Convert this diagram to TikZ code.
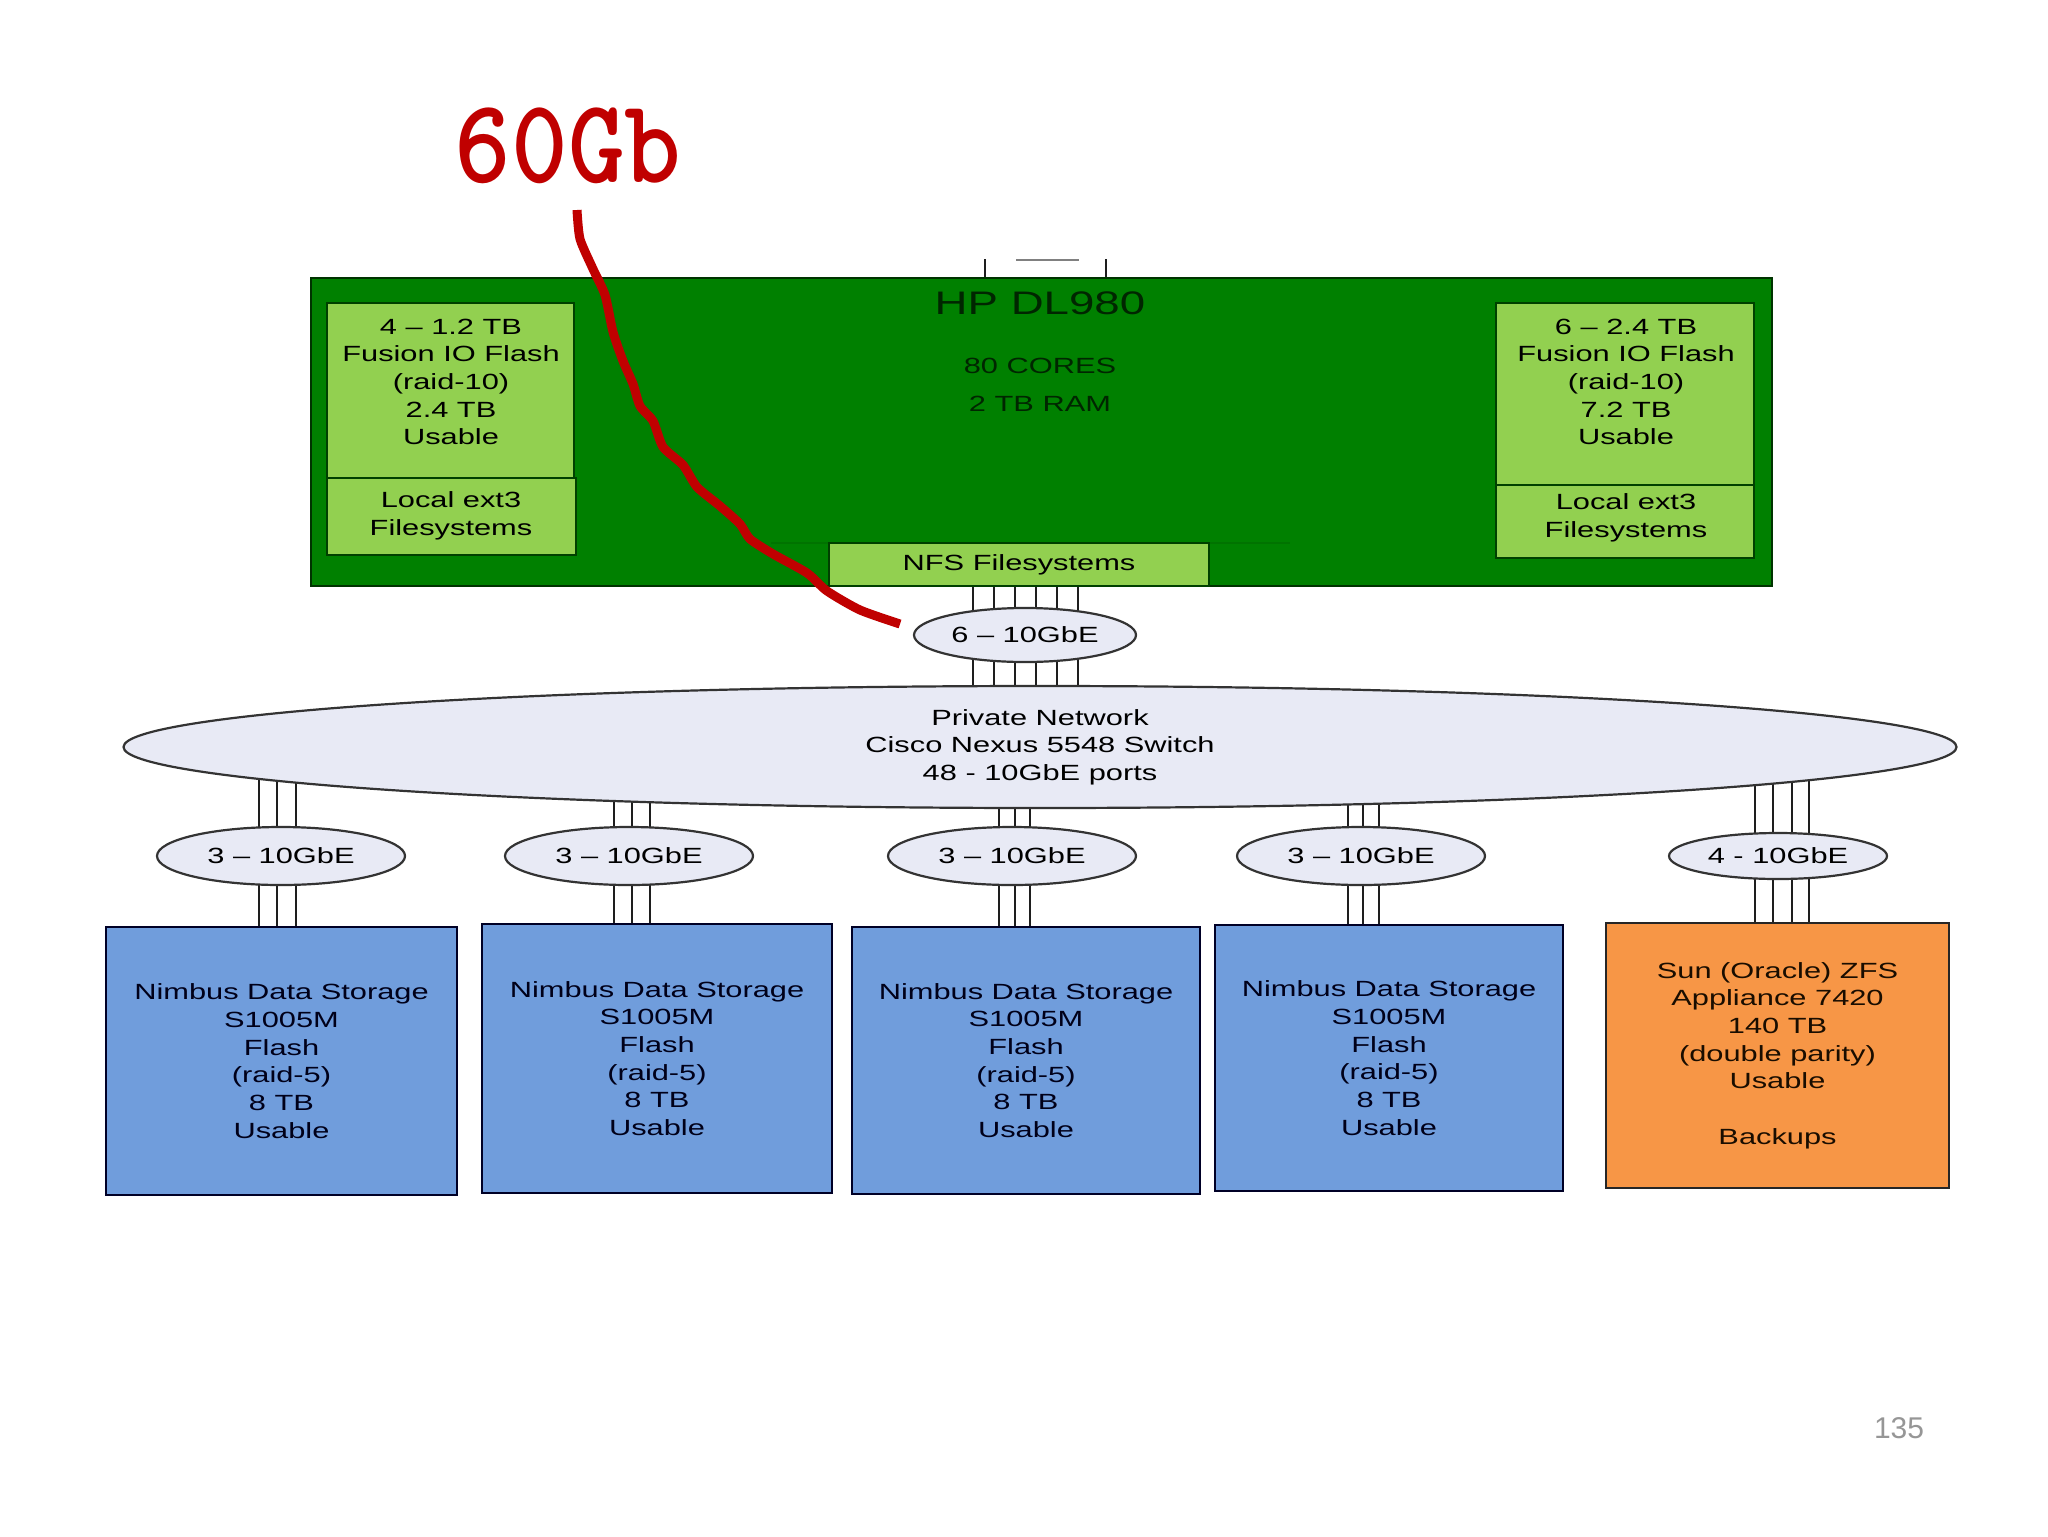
\documentclass[tikz,border=0pt]{standalone}
\usepackage{fontspec}
\setmainfont{Liberation Sans}[FakeStretch=1.4]
\newfontfamily\pagenumfont{Liberation Sans}
\newfontfamily\redfont{lmmonolt10-bold.otf}[FakeStretch=0.9]
\usetikzlibrary{shapes.geometric}
\pgfdeclarelayer{back}
\pgfdeclarelayer{bg}
\pgfsetlayers{back,bg,main}
\definecolor{hpgreen}{RGB}{0,128,0}
\definecolor{lightgreen}{RGB}{146,208,80}
\definecolor{nimbus}{RGB}{112,157,220}
\definecolor{sunorange}{RGB}{247,150,70}
\definecolor{ellfill}{RGB}{232,234,245}
\definecolor{annot}{RGB}{192,0,0}
\definecolor{wirecol}{RGB}{30,30,30}
\definecolor{pagegray}{RGB}{150,150,150}
\tikzset{
 txt/.style={font=\fontsize{11}{13.85}\selectfont, align=center, inner sep=0pt},
 hpbox/.style={draw=black!80!green, line width=1.4pt, fill=hpgreen, inner sep=0pt},
 subbox/.style={draw=black!75!green, line width=1.2pt, fill=lightgreen, inner sep=0pt},
 store/.style={draw=black!85!blue, line width=1.2pt, fill=nimbus, txt, text=black!90!blue},
 sunbox/.style={draw=black!85, line width=1.2pt, fill=sunorange, txt, text=black!90!orange},
 port/.style={ellipse, draw=black!80, line width=1.1pt, fill=ellfill, inner sep=0pt, txt},
 wire/.style={draw=wirecol, line width=1pt},
 annotline/.style={draw=annot, line width=4.5pt, line join=round},
 greentxt/.style={txt, text=black!85!green},
}
\begin{document}
\begin{tikzpicture}[x=0.5pt,y=-0.5pt]
\begin{pgfonlayer}{back}
\fill[white] (0,0) rectangle (2048,1536);
\end{pgfonlayer}
\useasboundingbox (0,0) rectangle (2048,1536);

% tab on top of the server
\draw[wire] (985,259) -- (985,279);
\draw[wire] (1106,259) -- (1106,279);
\draw[gray, line width=0.8pt] (1016,260) -- (1079,260);

% server
\node[hpbox, minimum width=730.5pt, minimum height=154pt] (hp) at (1041.5,432) {};
\node[greentxt, font=\fontsize{16.3}{18}\selectfont] (hpt) at (1040,303) {HP DL980};
\node[greentxt] (cores) at (1040,366) {80 CORES};
\node[greentxt] (ram) at (1040,404) {2 TB RAM};
\draw[black!55!green, line width=0.6pt] (771,543) -- (1290,543);

\node[subbox, minimum width=123.5pt, minimum height=87.5pt] (lf) at (450.5,390.5) {};
\node[subbox, minimum width=124.5pt, minimum height=38.5pt] (lx) at (451.5,516.5) {};
\node[txt] (lft) at (451,382) {4 -- 1.2 TB\\Fusion IO Flash\\(raid-10)\\2.4 TB\\Usable};
\node[txt] (lxt) at (451,516) {Local ext3\\Filesystems};

\node[subbox, minimum width=129pt, minimum height=91pt] (rf) at (1625,394) {};
\node[subbox, minimum width=129pt, minimum height=36.5pt] (rx) at (1625,521.5) {};
\node[txt] (rft) at (1626,382) {6 -- 2.4 TB\\Fusion IO Flash\\(raid-10)\\7.2 TB\\Usable};
\node[txt] (rxt) at (1626,518) {Local ext3\\Filesystems};

\node[subbox, minimum width=190pt, minimum height=21.5pt, txt] (nfs) at (1019,564.5) {NFS Filesystems};

% network
\node[port, minimum width=111pt, minimum height=27pt] (g6) at (1025,635) {6 -- 10GbE};
\node[port, minimum width=916.5pt, minimum height=61pt, font=\fontsize{11}{13.75}\selectfont] (net) at (1040,747) {Private Network\\Cisco Nexus 5548 Switch\\48 - 10GbE ports};

\node[port, minimum width=124pt, minimum height=29pt] (e1) at (281,856) {3 -- 10GbE};
\node[port, minimum width=124pt, minimum height=29pt] (e2) at (629,856) {3 -- 10GbE};
\node[port, minimum width=124pt, minimum height=29pt] (e3) at (1012,856) {3 -- 10GbE};
\node[port, minimum width=124pt, minimum height=29pt] (e4) at (1361,856) {3 -- 10GbE};
\node[port, minimum width=109pt, minimum height=23pt] (e5) at (1778,856) {4 - 10GbE};

% storage
\node[store, minimum width=175.5pt, minimum height=134pt] (b1) at (281.5,1061) {Nimbus Data Storage\\S1005M\\Flash\\(raid-5)\\8 TB\\Usable};
\node[store, minimum width=175pt, minimum height=134.5pt] (b2) at (657,1058.5) {Nimbus Data Storage\\S1005M\\Flash\\(raid-5)\\8 TB\\Usable};
\node[store, minimum width=174pt, minimum height=133.5pt] (b3) at (1026,1060.5) {Nimbus Data Storage\\S1005M\\Flash\\(raid-5)\\8 TB\\Usable};
\node[store, minimum width=174pt, minimum height=133pt] (b4) at (1389,1058) {Nimbus Data Storage\\S1005M\\Flash\\(raid-5)\\8 TB\\Usable};
\node[sunbox, minimum width=171.5pt, minimum height=132.5pt] (b5) at (1777.5,1055.5) {Sun (Oracle) ZFS\\Appliance 7420\\140 TB\\(double parity)\\Usable\\[13.85pt]Backups};

% wires behind the shapes
\begin{pgfonlayer}{bg}
\foreach \dx in {-52.5,-31.5,-10.5,10.5,31.5,52.5}{
  \draw[wire] ([xshift=\dx*0.5pt]g6.center) -- ++(0,-100);
  \draw[wire] ([xshift=\dx*0.5pt]g6.center) -- ++(0,112);
}
\foreach \e/\lst in {e1/{-22,-4,15}, e2/{-15,3,21}, e3/{-13,3,18}, e4/{-13,2,18}, e5/{-23,-5,14,31}}{
  \foreach \dx in \lst {
    \draw[wire] ([xshift=\dx*0.5pt]\e.center) -- ++(0,-107);
    \draw[wire] ([xshift=\dx*0.5pt]\e.center) -- ++(0,200);
  }
}
\end{pgfonlayer}

% annotation
\node[font=\redfont\fontsize{60}{60}\selectfont, text=annot, anchor=base, inner sep=0pt] (gb) at (568,182) {60Gb};
\coordinate (rs) at (577,210);
\coordinate (re) at (900,624);
\draw[annotline] plot[smooth, tension=0.4] coordinates {(rs) (580,239) (593,269) (605,295) (613,332) (623,361) (633,384) (640,406) (653,421) (663,447) (683,465) (697,487) (720,506) (740,524) (750,539) (773,554) (807,573) (827,591) (860,610) (re)};

% page number
\node[font=\pagenumfont\fontsize{15}{15}\selectfont, text=pagegray, inner sep=0pt] (pg) at (1899,1428) {135};
\end{tikzpicture}
\end{document}
